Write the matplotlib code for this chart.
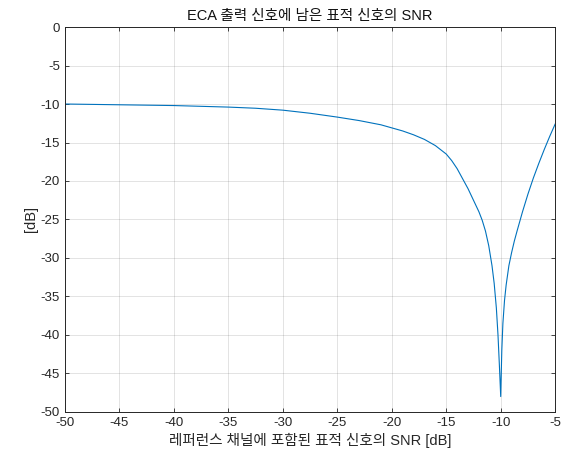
import matplotlib
matplotlib.use("Agg")
import matplotlib.pyplot as plt
import numpy as np

plt.rcParams['font.family'] = ['Liberation Sans', 'Noto Sans CJK KR', 'DejaVu Sans']
plt.rcParams['axes.unicode_minus'] = False

# reference-channel target SNR [dB] vs. residual target SNR at ECA output [dB]
snr_ref = [-50, -45, -40, -35, -32.5, -30, -27.5, -25, -23, -21, -20, -19, -18, -17, -16,
           -15, -14.5, -14, -13.5, -13, -12.5, -12, -11.7, -11.4, -11.1, -10.8, -10.6,
           -10.4, -10.25, -10.12, -10.0,
           -9.9, -9.8, -9.65, -9.5, -9.25, -9.0, -8.75, -8.5, -8.0, -7.5, -7.0, -6.5,
           -6.0, -5.5, -5.0]
snr_out = [-10.0, -10.1, -10.2, -10.4, -10.55, -10.8, -11.2, -11.7, -12.15, -12.7, -13.1, -13.5,
           -14.0, -14.6, -15.4, -16.5, -17.35, -18.4, -19.7, -21.0, -22.5, -24.0, -25.1, -26.5,
           -28.4, -31.0, -33.3, -36.5, -40.0, -44.0, -48.0,
           -42.0, -38.5, -35.5, -33.5, -31.0, -29.3, -27.8, -26.5, -24.0, -21.7, -19.6, -17.7,
           -15.9, -14.2, -12.6]

xticks = np.arange(-50, -4, 5)
yticks = np.arange(-50, 1, 5)

axcol = '#262626'
fig = plt.figure(figsize=(5.7, 4.66), dpi=100)
ax = fig.add_axes([0.114, 0.116, 0.86, 0.826])
ax.plot(snr_ref, snr_out, color='#0072BD', lw=0.8)

ax.set_xlim(-50, -5)
ax.set_ylim(-50, 0)
ax.set_xticks(xticks)
ax.set_yticks(yticks)
ax.grid(True, color='#262626', alpha=0.15, lw=0.6)
ax.tick_params(direction='in', top=True, right=True, length=3, labelsize=9.5,
               colors=axcol, width=0.6)
for s in ax.spines.values():
    s.set_color(axcol)
    s.set_linewidth(0.7)

ax.set_title('ECA 출력 신호에 남은 표적 신호의 SNR', fontsize=10.5, color='#111111', pad=5,
             family=['Liberation Sans', 'Noto Sans CJK KR'])
ax.set_xlabel('레퍼런스 채널에 포함된 표적 신호의 SNR [dB]', fontsize=10.5, color=axcol,
              labelpad=3, family=['Liberation Sans', 'Noto Sans CJK KR'])
ax.set_ylabel('[dB]', fontsize=10.5, color=axcol, labelpad=2)

fig.savefig('out.png', dpi=100)
